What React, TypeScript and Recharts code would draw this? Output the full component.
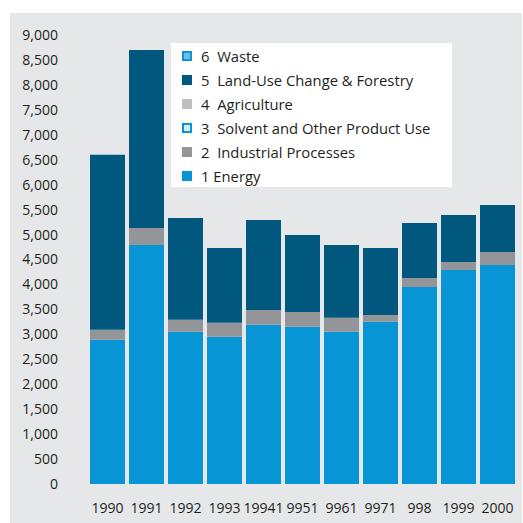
import React from "react";
import { BarChart, Bar, XAxis, YAxis, Legend } from "recharts";

const years = ["1990", "1991", "1992", "1993", "19941", "9951", "9961", "9971", "998", "1999", "2000"];
const energy = [2890, 4790, 3050, 2950, 3190, 3150, 3050, 3250, 3950, 4290, 4390];
const industrial = [200, 340, 240, 280, 300, 300, 280, 140, 180, 160, 260];
const solvent = [0, 0, 0, 0, 0, 0, 0, 0, 0, 0, 0];
const agriculture = [0, 0, 0, 0, 0, 0, 0, 0, 0, 0, 0];
const landUse = [3510, 3570, 2040, 1500, 1800, 1540, 1460, 1340, 1100, 940, 940];
const waste = [0, 0, 0, 0, 0, 0, 0, 0, 0, 0, 0];
const yTicks = [0, 500, 1000, 1500, 2000, 2500, 3000, 3500, 4000, 4500, 5000, 5500, 6000, 6500, 7000, 7500, 8000, 8500, 9000];

const FONT = "'Open Sans', sans-serif";
const TEXT = "#231f20";

// stack order bottom -> top
const series = [
  { key: "energy", name: "1 Energy", fill: "#0795d6", border: "#0795d6" },
  { key: "industrial", name: "2  Industrial Processes", fill: "#939598", border: "#939598" },
  { key: "solvent", name: "3  Solvent and Other Product Use", fill: "#d4ecf9", border: "#0795d6" },
  { key: "agriculture", name: "4  Agriculture", fill: "#bcbec0", border: "#bcbec0" },
  { key: "landUse", name: "5  Land-Use Change & Forestry", fill: "#00587f", border: "#00587f" },
  { key: "waste", name: "6  Waste", fill: "#6fbde9", border: "#0795d6" },
];

const data = years.map((year, i) => ({
  year,
  energy: energy[i],
  industrial: industrial[i],
  solvent: solvent[i],
  agriculture: agriculture[i],
  landUse: landUse[i],
  waste: waste[i],
}));

const fmt = (v: number) => v.toLocaleString("en-US");

function LegendBox() {
  return (
    <div
      style={{
        background: "#ffffff",
        width: 281,
        height: 144,
        boxSizing: "border-box",
        padding: "1px 0 0 11px",
        fontFamily: FONT,
        fontSize: 14.8,
        color: TEXT,
      }}
    >
      {[...series].reverse().map((s) => (
        <div key={s.key} style={{ display: "flex", alignItems: "center", height: 24, whiteSpace: "pre" }}>
          <span
            style={{
              display: "inline-block",
              width: 10,
              height: 10,
              boxSizing: "border-box",
              background: s.fill,
              border: `2px solid ${s.border}`,
              marginRight: 9,
            }}
          />
          {s.name}
        </div>
      ))}
    </div>
  );
}

export default function App() {
  return (
    <div style={{ position: "absolute", left: 0, top: 0, width: 523, height: 523, background: "#ffffff" }}>
      <div style={{ position: "absolute", left: 10, top: 13, width: 512, height: 510, background: "#e6e7e8" }} />
      <div style={{ position: "absolute", left: 0, top: 0 }}>
        <BarChart width={523} height={523} data={data} margin={{ top: 35, right: 6, bottom: 0, left: 0 }} barSize={35}>
          <XAxis
            dataKey="year"
            height={39}
            axisLine={false}
            tickLine={false}
            tickSize={0}
            tickMargin={19}
            interval={0}
            tick={{ fontSize: 14, fill: TEXT, fontFamily: FONT }}
          />
          <YAxis
            width={88}
            domain={[0, 9000]}
            ticks={yTicks}
            interval={0}
            axisLine={false}
            tickLine={false}
            tickSize={0}
            tickMargin={30}
            tickFormatter={fmt}
            tick={{ fontSize: 14, fill: TEXT, fontFamily: FONT }}
          />
          <Legend
            layout="vertical"
            align="center"
            verticalAlign="middle"
            content={() => <LegendBox />}
            wrapperStyle={{ position: "absolute", left: 171, top: 43, width: 281, height: 144 }}
          />
          {series.map((s) => (
            <Bar key={s.key} dataKey={s.key} name={s.name} stackId="a" fill={s.fill} isAnimationActive={false} />
          ))}
        </BarChart>
      </div>
    </div>
  );
}
